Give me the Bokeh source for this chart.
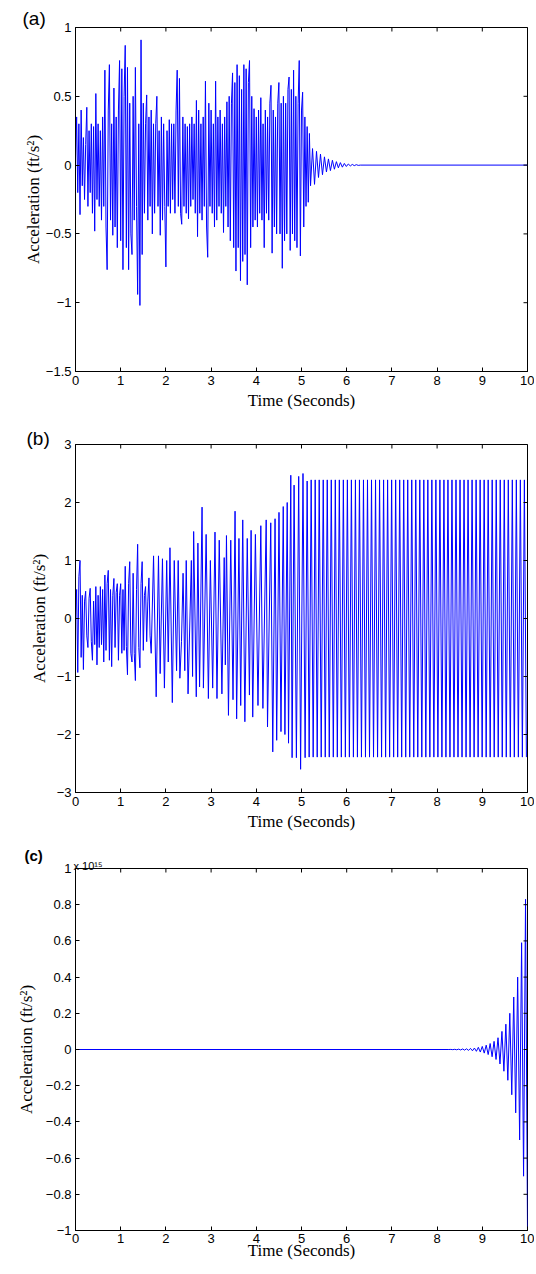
import math
from bokeh.plotting import figure
from bokeh.layouts import column
from bokeh.models import Range1d, FixedTicker, Title
from bokeh.embed import file_html
from bokeh.resources import INLINE

# ---------------- tick values / labels ----------------
x_ticks = [0, 1, 2, 3, 4, 5, 6, 7, 8, 9, 10]
a_y_ticks = [-1.5, -1, -0.5, 0, 0.5, 1]
a_y_labels = ["−1.5", "−1", "−0.5", "0", "0.5", "1"]
b_y_ticks = [-3, -2, -1, 0, 1, 2, 3]
b_y_labels = ["−3", "−2", "−1", "0", "1", "2", "3"]
c_y_ticks = [-1, -0.8, -0.6, -0.4, -0.2, 0, 0.2, 0.4, 0.6, 0.8, 1]
c_y_labels = ["−1", "−0.8", "−0.6", "−0.4", "−0.2", "0", "0.2", "0.4", "0.6", "0.8", "1"]

# ---------------- panel (a) ----------------
a_dt = 0.025
a_main = [
    0.05, 0.35, -0.2, 0.3, -0.36, 0.4, -0.15, 0.2, -0.25, 0.15,
    0.42, -0.3, 0.25, -0.2, 0.3, -0.35, 0.28, -0.48, 0.52, -0.25,
    0.3, -0.3, 0.25, -0.4, 0.35, -0.3, 0.69, -0.45, -0.76, 0.4,
    0.73, -0.4, 0.3, -0.51, 0.56, -0.45, 0.35, -0.6, 0.4, 0.76,
    -0.55, 0.7, -0.76, 0.5, 0.87, -0.6, 0.71, -0.76, 0.45, -0.5,
    -0.65, 0.5, -0.4, 0.71, -0.3, -0.94, 0.3, -1.02, 0.91, -0.65,
    0.45, -0.35, 0.3, 0.51, -0.4, 0.35, -0.3, 0.4, -0.5, 0.3,
    -0.35, 0.3, 0.5, -0.3, 0.25, -0.51, 0.35, -0.4, 0.3, -0.3,
    -0.74, 0.25, -0.3, 0.33, -0.35, 0.3, -0.25, 0.3, -0.35, 0.4,
    0.69, -0.3, 0.63, -0.35, -0.43, 0.35, -0.3, 0.3, -0.35, 0.28,
    -0.39, 0.3, -0.3, 0.35, -0.25, 0.3, -0.35, 0.47, -0.52, 0.4,
    -0.35, 0.3, -0.4, 0.35, -0.3, 0.61, -0.45, -0.67, 0.45, -0.3,
    0.4, -0.35, 0.3, -0.45, 0.61, -0.4, 0.35, -0.3, 0.4, -0.35,
    0.3, -0.49, 0.35, -0.3, 0.46, -0.45, 0.5, -0.55, 0.45, 0.67,
    -0.6, 0.6, -0.77, 0.73, -0.6, 0.65, -0.84, 0.55, -0.7, 0.73,
    -0.65, 0.7, -0.87, 0.6, 0.76, -0.6, 0.5, -0.45, 0.41, -0.4,
    0.35, -0.45, 0.4, -0.35, 0.49, -0.4, 0.3, -0.6, 0.4, -0.35,
    0.35, -0.4, 0.45, 0.58, -0.64, 0.4, -0.45, 0.35, -0.5, 0.45,
    0.6, -0.5, 0.45, -0.75, 0.5, -0.55, 0.45, -0.5, 0.55, 0.64,
    -0.62, 0.55, -0.5, 0.69, -0.55, 0.5, -0.6, 0.45, 0.76, -0.66,
    0.4, 0.53, -0.45, 0.35, -0.3, 0.28, -0.27, 0.23, -0.15,
]
a_tail_start = 5.244
a_tail_step = 0.044
a_tail = [
    0.12, -0.14, 0.1, -0.09, 0.08, -0.07, 0.06, -0.05, 0.045, -0.04,
    0.035, -0.03, 0.025, -0.02, 0.018, -0.015, 0.012, -0.01, 0.008, -0.006,
    0.005, -0.004, 0.003, -0.002,
]
a_flat_t = [6.3, 10.0]
a_flat = [0.0, 0.0]

# ---------------- panel (b) ----------------
b_dt = 0.025
b_early = [
    0.0, 0.5, -0.93, 0.72, 1.0, -0.67, 0.4, -0.88, 0.3, 0.47,
    -0.3, -0.5, 0.35, 0.52, -0.4, -0.72, 0.3, -0.45, 0.55, -0.8,
    0.4, -0.5, 0.55, -0.45, 0.5, -0.75, 0.75, -0.55, 0.6, 0.83,
    -0.72, 0.5, -0.83, 0.4, 0.69, -0.5, 0.45, 0.6, -0.72, 0.4,
    0.6, -0.6, 0.5, -0.55, 0.9, -0.48, -0.97, 0.6, 0.98, -0.6,
    -0.75, 0.78, -0.6, -1.07, 0.5, 1.28, -0.5, -0.85, 0.6, 0.98,
    -0.55, 0.4, 0.55, -0.4, 0.3, 0.7, -0.3, -0.6,
]
b_mid_t = [
    1.727, 1.785, 1.836, 1.873, 1.924, 1.967, 2.018, 2.052, 2.090, 2.142,
    2.185, 2.236, 2.272, 2.309, 2.345, 2.380, 2.418, 2.450, 2.490, 2.563,
    2.590, 2.614, 2.672, 2.708, 2.745, 2.800, 2.830, 2.890, 2.940, 2.984,
    3.035, 3.086, 3.130, 3.180, 3.239, 3.290, 3.315, 3.340, 3.384, 3.435,
    3.485, 3.530, 3.565, 3.616, 3.655, 3.700, 3.747, 3.800, 3.848, 3.885,
    3.921, 3.980, 4.037, 4.100, 4.146, 4.219, 4.248, 4.320, 4.364, 4.415,
    4.451, 4.502, 4.546, 4.596, 4.633, 4.684, 4.713, 4.763, 4.792, 4.836,
    4.887, 4.938, 4.980, 5.033, 5.080,
]
b_mid = [
    1.08, -1.35, 1.08, -0.95, 1.03, -1.2, 1.0, -0.75, 1.22, -1.45,
    1.0, -0.9, 1.0, -1.03, -0.4, 0.78, -0.9, 1.0, -1.3, 1.0,
    -1.0, 1.5, -1.35, 1.3, -1.18, 1.92, -1.2, 1.45, -1.38, 1.0,
    -1.2, 1.49, -1.38, 1.35, -1.3, 1.05, -0.8, 1.43, -1.67, 1.35,
    -1.4, 1.85, -1.73, 1.38, -1.5, 1.7, -1.78, 1.38, -1.32, 1.52,
    -1.7, 1.45, -1.5, 1.6, -1.55, 1.7, -1.87, 1.65, -2.3, 1.72,
    -2.1, 1.83, -1.95, 1.93, -2.0, 2.0, -2.15, 2.47, -2.4, 2.3,
    -2.4, 2.45, -2.6, 2.5, -2.4,
]
b_steady_start = 5.125
b_steady_step = 0.0445
b_steady = [
    2.37, -2.39, 2.39, -2.39, 2.39, -2.39, 2.39, -2.39, 2.39, -2.39,
    2.39, -2.39, 2.39, -2.39, 2.39, -2.39, 2.39, -2.39, 2.39, -2.39,
    2.39, -2.39, 2.39, -2.39, 2.39, -2.39, 2.39, -2.39, 2.39, -2.39,
    2.39, -2.39, 2.39, -2.39, 2.39, -2.39, 2.39, -2.39, 2.39, -2.39,
    2.39, -2.39, 2.39, -2.39, 2.39, -2.39, 2.39, -2.39, 2.39, -2.39,
    2.39, -2.39, 2.39, -2.39, 2.39, -2.39, 2.39, -2.39, 2.39, -2.39,
    2.39, -2.39, 2.39, -2.39, 2.39, -2.39, 2.39, -2.39, 2.39, -2.39,
    2.39, -2.39, 2.39, -2.39, 2.39, -2.39, 2.39, -2.39, 2.39, -2.39,
    2.39, -2.39, 2.39, -2.39, 2.39, -2.39, 2.39, -2.39, 2.39, -2.39,
    2.39, -2.39, 2.39, -2.39, 2.39, -2.39, 2.39, -2.39, 2.39, -2.39,
    2.39, -2.39, 2.39, -2.39, 2.39, -2.39, 2.39, -2.39, 2.39, -2.39,
]

# ---------------- panel (c)  (values in units of 1e15) ----------------
c_flat_t = [0.0]
c_flat = [0.0]
c_end = 10.0
c_step = 0.0435
c_growth = [
    0.0, 0.0005, -0.0008, 0.001, -0.0015, 0.002, -0.0025, 0.003, -0.0035, 0.004,
    -0.005, 0.006, -0.007, 0.008, -0.01, 0.012, -0.014, 0.017, -0.02, 0.024,
    -0.028, 0.033, -0.04, 0.045, -0.055, 0.065, -0.08, 0.1, -0.12, 0.14,
    -0.17, 0.2, -0.25, 0.29, -0.35, 0.4, -0.5, 0.59, -0.7, 0.83,
    -1.0,
]

# ---------------- assemble series ----------------
a_t = [a_dt * i for i in range(len(a_main))]
a_t += [a_tail_start + a_tail_step * i for i in range(len(a_tail))]
a_t += a_flat_t
a_y = a_main + a_tail + a_flat

b_t = [b_dt * i for i in range(len(b_early))] + b_mid_t
b_t += [b_steady_start + b_steady_step * i for i in range(len(b_steady))]
b_y = b_early + b_mid + b_steady

n_c = len(c_growth)
c_t = c_flat_t + [c_end - c_step * (n_c - 1 - i) for i in range(n_c)]
c_y = c_flat + c_growth

SANS = "Liberation Sans"
SERIF = "Liberation Serif"
BLUE = "#0000ff"


def make_panel(t, y, yrange, yticks, ylabels, width, height, borders,
               ylab_standoff, xlab_standoff, xtick_standoff=4):
    left, right, top, bottom = borders
    p = figure(width=width, height=height, x_range=Range1d(0, 10),
               y_range=Range1d(*yrange), output_backend="svg",
               toolbar_location=None, min_border_left=left,
               min_border_right=right, min_border_top=top,
               min_border_bottom=bottom)
    p.xgrid.visible = False
    p.ygrid.visible = False
    p.outline_line_color = "black"
    p.background_fill_color = "white"
    p.border_fill_color = "white"
    p.line(t, y, line_color=BLUE, line_width=1)

    xa = p.xaxis[0]
    xa.ticker = FixedTicker(ticks=x_ticks)
    xa.axis_label = "Time (Seconds)"
    ya = p.yaxis[0]
    ya.ticker = FixedTicker(ticks=yticks)
    ya.major_label_overrides = {tk: lb for tk, lb in zip(yticks, ylabels)}
    ya.axis_label = "Acceleration (ft/s²)"
    for ax in (xa, ya):
        ax.major_tick_in = 4
        ax.major_tick_out = 0
        ax.minor_tick_in = 0
        ax.minor_tick_out = 0
        ax.axis_line_color = "black"
        ax.major_tick_line_color = "black"
        ax.major_label_text_font = SANS
        ax.major_label_text_font_size = "13px"
        ax.major_label_text_color = "black"
        ax.major_label_standoff = 4
        ax.axis_label_text_font = SERIF
        ax.axis_label_text_font_size = "17px"
        ax.axis_label_text_font_style = "normal"
        ax.axis_label_text_color = "black"
    ya.axis_label_standoff = ylab_standoff
    xa.axis_label_standoff = xlab_standoff
    xa.major_label_standoff = xtick_standoff

    # inward tick marks on the right and top edges (half of each dash is clipped)
    x_end = p.x_range.end
    y_end = p.y_range.end
    p.scatter([x_end for _ in yticks], yticks, marker="dash", size=8,
              line_color="black", line_width=1)
    p.scatter(x_ticks, [y_end for _ in x_ticks], marker="dash", size=8,
              angle=math.pi / 2, line_color="black", line_width=1)
    return p


def add_title(p, text, offset, size, standoff, style="normal"):
    p.add_layout(Title(text=text, align="left", vertical_align="bottom",
                       offset=offset, standoff=standoff, text_font=SANS,
                       text_font_size=size, text_font_style=style,
                       text_color="black"), "above")


pa = make_panel(a_t, a_y, (-1.5, 1), a_y_ticks, a_y_labels, 534, 420,
                (75, 7, 27, 49), 0, 3)
add_title(pa, "(a)", -53, "19px", -2)

pb = make_panel(b_t, b_y, (-3, 3), b_y_ticks, b_y_labels, 534, 420,
                (71, 4, 24, 48), 5, 3)
add_title(pb, "(b)", -49, "19px", -8)

pc = make_panel(c_t, c_y, (-1, 1), c_y_ticks, c_y_labels, 534, 433,
                (68, 5, 28, 43), 7, -5, 3)
add_title(pc, "x 10¹⁵", -2, "11px", -6)
add_title(pc, "(c)", -51, "15px", -7, "bold")

layout = column(pa, pb, pc, spacing=0)
open("out.html", "w").write(file_html(layout, INLINE))
